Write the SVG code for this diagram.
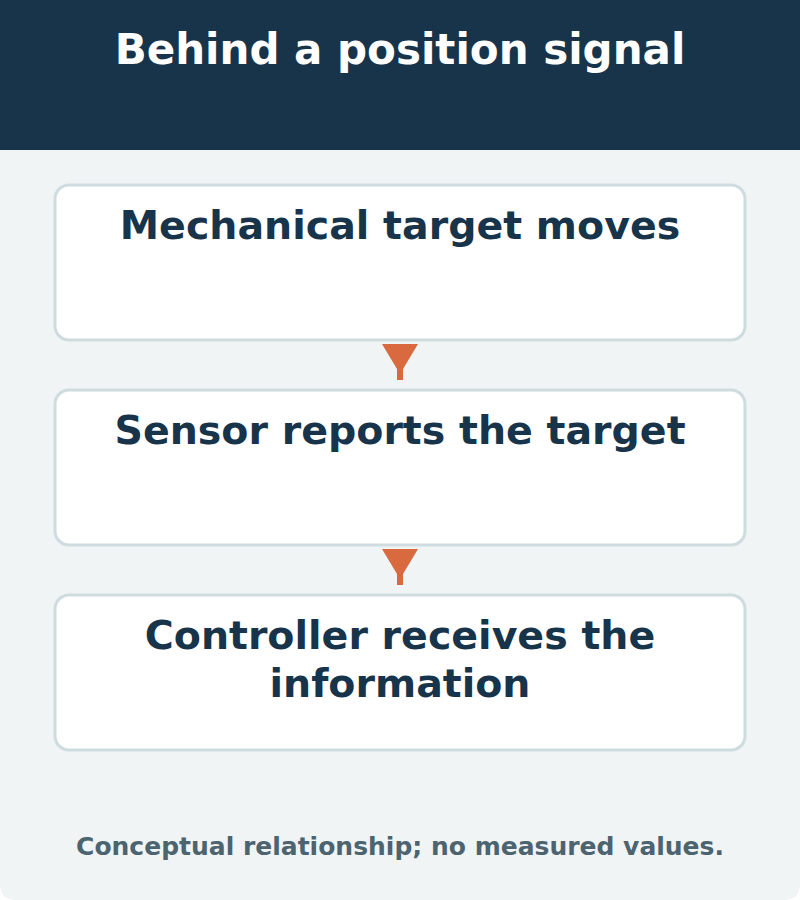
<svg xmlns="http://www.w3.org/2000/svg" width="800" height="900" viewBox="0 0 800 900">
<style>
.box{fill:#fff;stroke:#cfdcdf;stroke-width:3}
.t{font-family:"DejaVu Sans",sans-serif;font-weight:bold;text-anchor:middle}
.bt{font-size:39.5px;fill:#17344a}
.arr{fill:#d96a3f}
</style>
<path d="M0 0H800V884Q800 900 784 900H16Q0 900 0 884Z" fill="#f0f4f5"/>
<rect x="0" y="0" width="800" height="150" fill="#17344a"/>
<text class="t" x="400" y="64" font-size="42" fill="#fff">Behind a position signal</text>
<g id="n1"><rect class="box" x="55" y="185" width="690" height="155" rx="14"/><text class="t bt" x="400" y="239">Mechanical target moves</text></g>
<g id="n2"><rect class="box" x="55" y="390" width="690" height="155" rx="14"/><text class="t bt" x="400" y="444">Sensor reports the target</text></g>
<g id="n3"><rect class="box" x="55" y="595" width="690" height="155" rx="14"/><text class="t bt" x="400" y="649">Controller receives the</text><text class="t bt" x="400" y="697">information</text></g>
<g id="connectors">
<rect class="arr" x="397" y="360" width="6" height="20"/><path class="arr" d="M382 344H418L400 374Z"/>
<rect class="arr" x="397" y="565" width="6" height="20"/><path class="arr" d="M382 549H418L400 579Z"/>
</g>
<text class="t" x="400" y="855" font-size="25" fill="#4b6470">Conceptual relationship; no measured values.</text>
</svg>
